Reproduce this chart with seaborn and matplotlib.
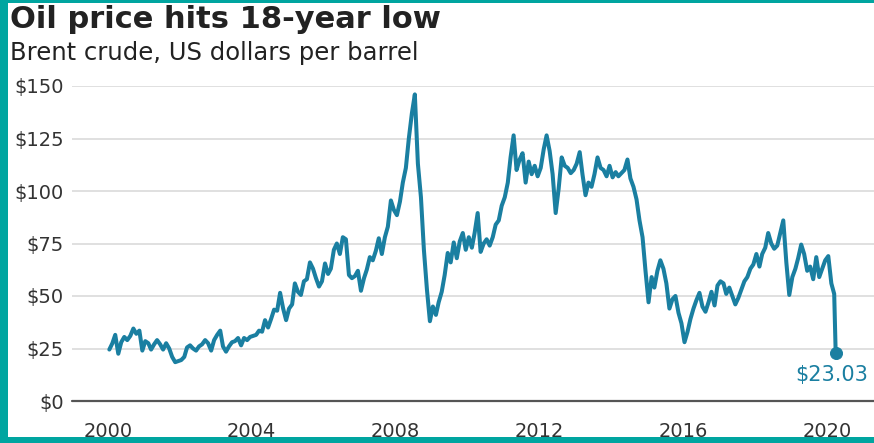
import pandas as pd
import matplotlib.pyplot as plt
import seaborn as sns
from matplotlib.patches import Rectangle

# ---------------------------------------
# Data: Brent crude, monthly readings (US$ per barrel)
# ---------------------------------------
brent_monthly = [
    # 2000
    24.5, 27.5, 31.5, 22.5, 28.0, 30.5, 29.0, 31.0, 34.5, 32.0, 33.5, 24.0,
    # 2001
    28.5, 27.5, 24.5, 27.0, 29.0, 27.0, 24.5, 27.5, 25.0, 21.0, 18.5, 19.0,
    # 2002
    19.5, 21.0, 25.5, 26.5, 25.0, 24.0, 26.0, 27.0, 29.0, 27.5, 24.0, 29.0,
    # 2003
    31.5, 33.5, 26.0, 23.5, 26.0, 28.0, 28.5, 30.0, 26.5, 30.0, 29.0, 30.5,
    # 2004
    31.0, 31.5, 33.5, 33.0, 38.5, 35.0, 39.0, 43.5, 43.0, 51.5, 44.0, 38.5,
    # 2005
    44.0, 46.0, 56.0, 52.0, 50.5, 57.0, 58.0, 66.0, 63.0, 58.5, 54.5, 57.0,
    # 2006
    65.5, 60.5, 63.0, 72.0, 75.0, 70.0, 78.0, 77.0, 60.0, 58.5, 59.5, 62.0,
    # 2007
    52.5, 58.5, 62.5, 68.5, 67.0, 71.5, 77.5, 70.0, 78.0, 83.0, 95.5, 91.0,
    # 2008
    88.5, 95.0, 104.0, 111.0, 125.0, 137.0, 146.0, 113.0, 97.0, 72.0, 53.0, 38.0,
    # 2009
    45.0, 41.0, 47.0, 52.0, 60.0, 70.5, 66.0, 75.5, 68.0, 76.0, 80.0, 72.0,
    # 2010
    78.0, 73.0, 80.0, 89.5, 71.0, 75.0, 77.0, 74.0, 78.0, 84.0, 86.0, 93.0,
    # 2011
    97.0, 104.0, 116.0, 126.5, 110.0, 115.0, 118.0, 104.0, 114.0, 108.0, 112.0, 107.0,
    # 2012
    111.0, 120.0, 126.5, 119.0, 108.0, 89.5, 101.0, 116.0, 112.0, 111.0, 108.5, 110.0,
    # 2013
    113.0, 118.5, 108.0, 98.0, 104.0, 102.0, 108.0, 116.0, 111.0, 110.0, 107.0, 112.0,
    # 2014
    106.5, 109.0, 107.0, 108.5, 110.0, 115.0, 106.0, 102.0, 96.0, 86.0, 78.0, 62.0,
    # 2015
    47.0, 59.0, 54.0, 62.0, 67.0, 63.0, 56.0, 44.0, 48.5, 50.0, 42.0, 37.0,
    # 2016
    28.0, 33.0, 39.0, 44.0, 48.0, 51.5, 45.0, 42.5, 47.0, 52.0, 45.5, 55.0,
    # 2017
    57.0, 56.0, 51.0, 54.0, 50.0, 46.0, 49.0, 53.0, 57.0, 59.0, 63.0, 65.0,
    # 2018
    70.0, 64.0, 70.0, 73.0, 80.0, 75.0, 72.5, 74.0, 80.0, 86.0, 66.0, 50.5,
    # 2019
    59.0, 63.0, 68.0, 74.5, 70.0, 62.0, 64.0, 58.0, 68.5, 59.0, 63.0, 67.0,
    # 2020
    69.0, 56.0, 51.0,
]
last_date = '2020-03-30'
last_price = 23.03

year_ticks = [2000, 2004, 2008, 2012, 2016, 2020]
price_ticks = [0, 25, 50, 75, 100, 125, 150]

title = "Oil price hits 18-year low"
subtitle = "Brent crude, US dollars per barrel"


def to_decimal_year(dates):
    dates = pd.DatetimeIndex(dates)
    return dates.year + (dates.dayofyear - 1) / 365.0


dates = pd.date_range('2000-01-01', periods=len(brent_monthly), freq='MS') + pd.Timedelta(days=14)
df = pd.DataFrame({'year': to_decimal_year(dates), 'price': brent_monthly})
end = pd.DataFrame({'year': to_decimal_year([last_date]), 'price': [last_price]})
df = pd.concat([df, end], ignore_index=True)

# ---------------------------------------
# Style
# ---------------------------------------
sns.set_style('white')
plt.rcParams['font.family'] = ['DejaVu Sans']

line_color = '#1a7fa1'
teal = '#00a5a0'

fig = plt.figure(figsize=(8.74, 4.43), dpi=100)
fig.patch.set_facecolor(teal)
fig.patches.append(Rectangle((8 / 874, 6 / 443), 1, 1 - 9 / 443,
                             transform=fig.transFigure, facecolor='white',
                             edgecolor='none', zorder=-10))

ax = fig.add_axes([72 / 874, 42 / 443, 1 - 72 / 874, 315 / 443])
ax.set_facecolor('white')

sns.lineplot(data=df, x='year', y='price', color=line_color, lw=2.9,
             ax=ax, clip_on=False, zorder=3)
sns.scatterplot(data=end, x='year', y='price', color=line_color, s=75,
                edgecolor=line_color, ax=ax, clip_on=False, zorder=4)

ax.text(2019.11, 12.2, "$23.03", color=line_color, fontsize=15,
        ha='left', va='center')

ax.set_xlim(1999.0, 2021.31)
ax.set_ylim(0, 150)
ax.set_xticks(year_ticks)
ax.set_xticklabels([str(y) for y in year_ticks])
ax.set_yticks(price_ticks)
ax.set_yticklabels([f"${p}" for p in price_ticks])
ax.tick_params(axis='both', length=0, labelsize=14, colors='#333333')
ax.tick_params(axis='y', pad=6)
ax.tick_params(axis='x', pad=15)
ax.grid(axis='y', color='#dddddd', lw=1.3)
ax.grid(axis='x', visible=False)
ax.axhline(0, color='#555555', lw=1.6, zorder=2, clip_on=False)
sns.despine(ax=ax, left=True, bottom=True)
ax.set_xlabel('')
ax.set_ylabel('')

fig.text(10 / 874, 1 - 28 / 443, title, fontsize=22, fontweight='bold',
         color='#222222', va='baseline', ha='left')
fig.text(10 / 874, 1 - 60 / 443, subtitle, fontsize=17.5,
         color='#222222', va='baseline', ha='left')

fig.savefig('out.png', dpi=100, facecolor=fig.get_facecolor())
